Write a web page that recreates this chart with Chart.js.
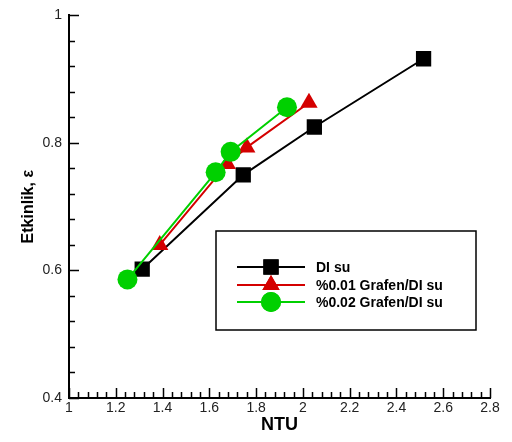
<!DOCTYPE html>
<html>
<head>
<meta charset="utf-8">
<script src="https://cdn.jsdelivr.net/npm/chart.js@4/dist/chart.umd.min.js"></script>
<style>
  html, body { margin: 0; padding: 0; background: #fff; }
  #wrap { width: 512px; height: 442px; }
</style>
</head>
<body>
<div id="wrap"><canvas id="c" width="512" height="442"></canvas></div>
<script>
// NTU vs effectiveness for DI water and graphene/DI water nanofluids
const seriesLabels = ['DI su', '%0.01 Grafen/DI su', '%0.02 Grafen/DI su'];

const diNtu  = [1.313, 1.745, 2.049, 2.516];
const diEff  = [0.602, 0.750, 0.825, 0.932];

const g1Ntu  = [1.388, 1.677, 1.760, 2.026];
const g1Eff  = [0.640, 0.767, 0.793, 0.863];

const g2Ntu  = [1.250, 1.627, 1.691, 1.932];
const g2Eff  = [0.586, 0.754, 0.786, 0.856];

const xTicks = [1, 1.2, 1.4, 1.6, 1.8, 2, 2.2, 2.4, 2.6, 2.8];
const yTicks = [0.4, 0.6, 0.8, 1];

const FONT = "'Liberation Sans', Arial, Helvetica, sans-serif";

function toPoints(xs, ys) {
  return xs.map((x, i) => ({ x: x, y: ys[i] }));
}

const styles = [
  { color: '#000000', pointStyle: 'rect',     radius: 10.8 },
  { color: '#d40000', pointStyle: 'triangle', radius: 10 },
  { color: '#00d000', pointStyle: 'circle',   radius: 10 }
];

const seriesData = [
  toPoints(diNtu, diEff),
  toPoints(g1Ntu, g1Eff),
  toPoints(g2Ntu, g2Eff)
];

const datasets = seriesData.map((pts, i) => ({
  label: seriesLabels[i],
  data: pts,
  borderColor: styles[i].color,
  backgroundColor: styles[i].color,
  pointBackgroundColor: styles[i].color,
  pointBorderColor: styles[i].color,
  pointBorderWidth: 0,
  pointStyle: styles[i].pointStyle,
  pointRadius: styles[i].radius,
  pointHoverRadius: styles[i].radius,
  borderWidth: 2,
  tension: 0,
  fill: false,
  order: 3 - i
}));

// Inward major and minor tick marks on both axes
const tickMarks = {
  id: 'tickMarks',
  afterDatasetsDraw(chart) {
    const ctx = chart.ctx;
    const xs = chart.scales.x, ys = chart.scales.y;
    const area = chart.chartArea;
    ctx.save();
    ctx.strokeStyle = '#000';
    ctx.lineWidth = 1.5;
    ctx.beginPath();
    const yStep = 0.04, xStep = 0.04;
    for (let i = 0; i <= 15; i++) {
      const v = ys.min + i * yStep;
      const py = Math.round(ys.getPixelForValue(v)) + 0.5;
      const len = (i % 5 === 0) ? 10 : 6;
      ctx.moveTo(area.left, py);
      ctx.lineTo(area.left + len, py);
    }
    for (let i = 0; i <= 45; i++) {
      const v = xs.min + i * xStep;
      const px = Math.round(xs.getPixelForValue(v)) + 0.5;
      const len = (i % 5 === 0) ? 10 : 6;
      ctx.moveTo(px, area.bottom);
      ctx.lineTo(px, area.bottom - len);
    }
    ctx.stroke();
    ctx.restore();
  }
};

// Boxed legend inside the plot area
const boxLegend = {
  id: 'boxLegend',
  afterDraw(chart) {
    const ctx = chart.ctx;
    ctx.save();
    ctx.fillStyle = '#fff';
    ctx.fillRect(216, 231, 260, 99);
    ctx.strokeStyle = '#000';
    ctx.lineWidth = 1.5;
    ctx.strokeRect(216, 231, 260, 99);
    const rowY = [267, 285, 302];
    chart.data.datasets.forEach((ds, i) => {
      const y = rowY[i];
      ctx.strokeStyle = ds.borderColor;
      ctx.lineWidth = 2;
      ctx.beginPath();
      ctx.moveTo(237, y);
      ctx.lineTo(305, y);
      ctx.stroke();
      ctx.fillStyle = ds.backgroundColor;
      Chart.helpers.drawPoint(ctx, {
        pointStyle: ds.pointStyle,
        radius: ds.pointRadius,
        rotation: 0,
        borderWidth: 0
      }, 271, y);
      ctx.fill();
      ctx.fillStyle = '#000';
      ctx.font = 'bold 14px ' + FONT;
      ctx.textAlign = 'left';
      ctx.textBaseline = 'middle';
      ctx.fillText(ds.label, 316, y + 1);
    });
    ctx.restore();
  }
};

new Chart(document.getElementById('c'), {
  type: 'line',
  data: { datasets: datasets },
  plugins: [tickMarks, boxLegend],
  options: {
    responsive: false,
    animation: false,
    devicePixelRatio: 1,
    layout: { padding: { left: 0, top: 14, right: 22, bottom: 0 } },
    plugins: {
      legend: { display: false },
      tooltip: { enabled: false }
    },
    scales: {
      x: {
        type: 'linear',
        min: 1,
        max: 2.8,
        afterFit: s => { s.height = 44; },
        afterBuildTicks: s => { s.ticks = xTicks.map(v => ({ value: v })); },
        grid: { display: false, drawTicks: false },
        border: { display: true, color: '#000', width: 2 },
        ticks: {
          padding: 2,
          color: '#222',
          font: { family: FONT, size: 14 },
          maxRotation: 0,
          autoSkip: false,
          callback: v => String(v)
        },
        title: {
          display: true,
          text: 'NTU',
          color: '#000',
          font: { family: FONT, size: 18, weight: 'bold' },
          padding: { top: 0, bottom: 6 }
        }
      },
      y: {
        type: 'linear',
        min: 0.4,
        max: 1,
        afterFit: s => { s.width = 69; },
        afterBuildTicks: s => { s.ticks = yTicks.map(v => ({ value: v })); },
        grid: { display: false, drawTicks: false },
        border: { display: true, color: '#000', width: 2 },
        ticks: {
          padding: 7,
          color: '#222',
          font: { family: FONT, size: 14 },
          autoSkip: false,
          callback: v => String(v)
        },
        title: {
          display: true,
          text: 'Etkinlik, ε',
          color: '#000',
          font: { family: FONT, size: 16, weight: 'bold' },
          padding: { top: 19, bottom: 0 }
        }
      }
    }
  }
});
</script>
</body>
</html>
